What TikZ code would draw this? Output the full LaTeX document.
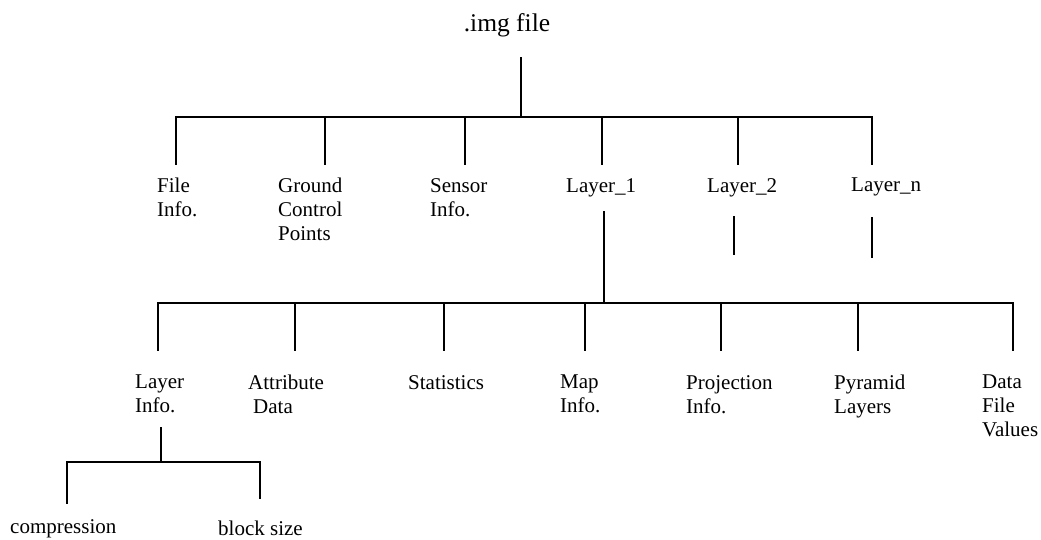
\documentclass[tikz,border=0pt]{standalone}
\usepackage{fontspec}
\setmainfont{Liberation Serif}
\begin{document}
\begin{tikzpicture}[x=1pt,y=-1pt,
  lbl/.style={anchor=north west, inner sep=0pt, align=left,
              font=\fontsize{21}{24}\selectfont},
  wire/.style={line width=1.6pt, line cap=rect}]
\useasboundingbox (0,0) rectangle (1041,539);

% ---- labels ----
\node[anchor=base, inner sep=0pt, font=\fontsize{25.5}{30}\selectfont] (root) at (507,31) {.img file};

\node[lbl] (fileinfo) at (157,178) {File\\Info.};
\node[lbl] (gcp)      at (278,178) {Ground\\Control\\Points};
\node[lbl] (sensor)   at (430,178) {Sensor\\Info.};
\node[lbl] (layer1)   at (566,178) {Layer\_1};
\node[lbl] (layer2)   at (707,178) {Layer\_2};
\node[lbl] (layern)   at (851,178) {Layer\_n};

\node[lbl] (layerinfo) at (135,375) {Layer\\Info.};
\node[lbl] (attr)      at (248,375) {Attribute\\\hspace*{5pt}Data};
\node[lbl] (stats)     at (408,375) {Statistics};
\node[lbl] (mapinfo)   at (560,375) {Map\\Info.};
\node[lbl] (proj)      at (686,375) {Projection\\Info.};
\node[lbl] (pyramid)   at (834,375) {Pyramid\\Layers};
\node[lbl] (dfv)       at (982,375) {Data\\File\\Values};

\node[anchor=base west, inner sep=0pt, font=\fontsize{21}{24}\selectfont] (compression) at (10,533) {compression};
\node[anchor=base west, inner sep=0pt, font=\fontsize{21}{24}\selectfont] (blocksize) at (218,535.5) {block size};

% ---- connector points ----
\coordinate (rootstem) at (521,58);
\coordinate (hubA) at (521,117);
\coordinate (barAl) at (176,117);
\coordinate (barAr) at (872,117);
\foreach \n/\x in {fileinfo/176, gcp/325, sensor/465, layer1/602, layer2/738, layern/872}{
  \coordinate (\n-up) at (\x,117);
  \coordinate (\n-dn) at (\x,164);
}
\coordinate (layer1-stem) at (604,212);
\coordinate (hubB) at (604,303);
\coordinate (layer2-stem) at (734,217);
\coordinate (layer2-end) at (734,254);
\coordinate (layern-stem) at (872,218);
\coordinate (layern-end) at (872,257);
\coordinate (barBl) at (158,303);
\coordinate (barBr) at (1013,303);
\foreach \n/\x in {layerinfo/158, attr/295, stats/444, mapinfo/585, proj/721, pyramid/858, dfv/1013}{
  \coordinate (\n-up) at (\x,303);
  \coordinate (\n-dn) at (\x,350);
}
\coordinate (layerinfo-stem) at (161,428);
\coordinate (hubC) at (161,462);
\coordinate (barCl) at (67,462);
\coordinate (barCr) at (260,462);
\coordinate (compression-dn) at (67,503);
\coordinate (blocksize-dn) at (260,498);

% ---- connectors ----
\draw[wire] (rootstem) -- (hubA);
\draw[wire] (barAl) -- (barAr);
\foreach \n in {fileinfo, gcp, sensor, layer1, layer2, layern}
  \draw[wire] (\n-up) -- (\n-dn);

\draw[wire] (layer1-stem) -- (hubB);
\draw[wire] (layer2-stem) -- (layer2-end);
\draw[wire] (layern-stem) -- (layern-end);
\draw[wire] (barBl) -- (barBr);
\foreach \n in {layerinfo, attr, stats, mapinfo, proj, pyramid, dfv}
  \draw[wire] (\n-up) -- (\n-dn);

\draw[wire] (layerinfo-stem) -- (hubC);
\draw[wire] (barCl) -- (barCr);
\draw[wire] (barCl) -- (compression-dn);
\draw[wire] (barCr) -- (blocksize-dn);
\end{tikzpicture}
\end{document}
